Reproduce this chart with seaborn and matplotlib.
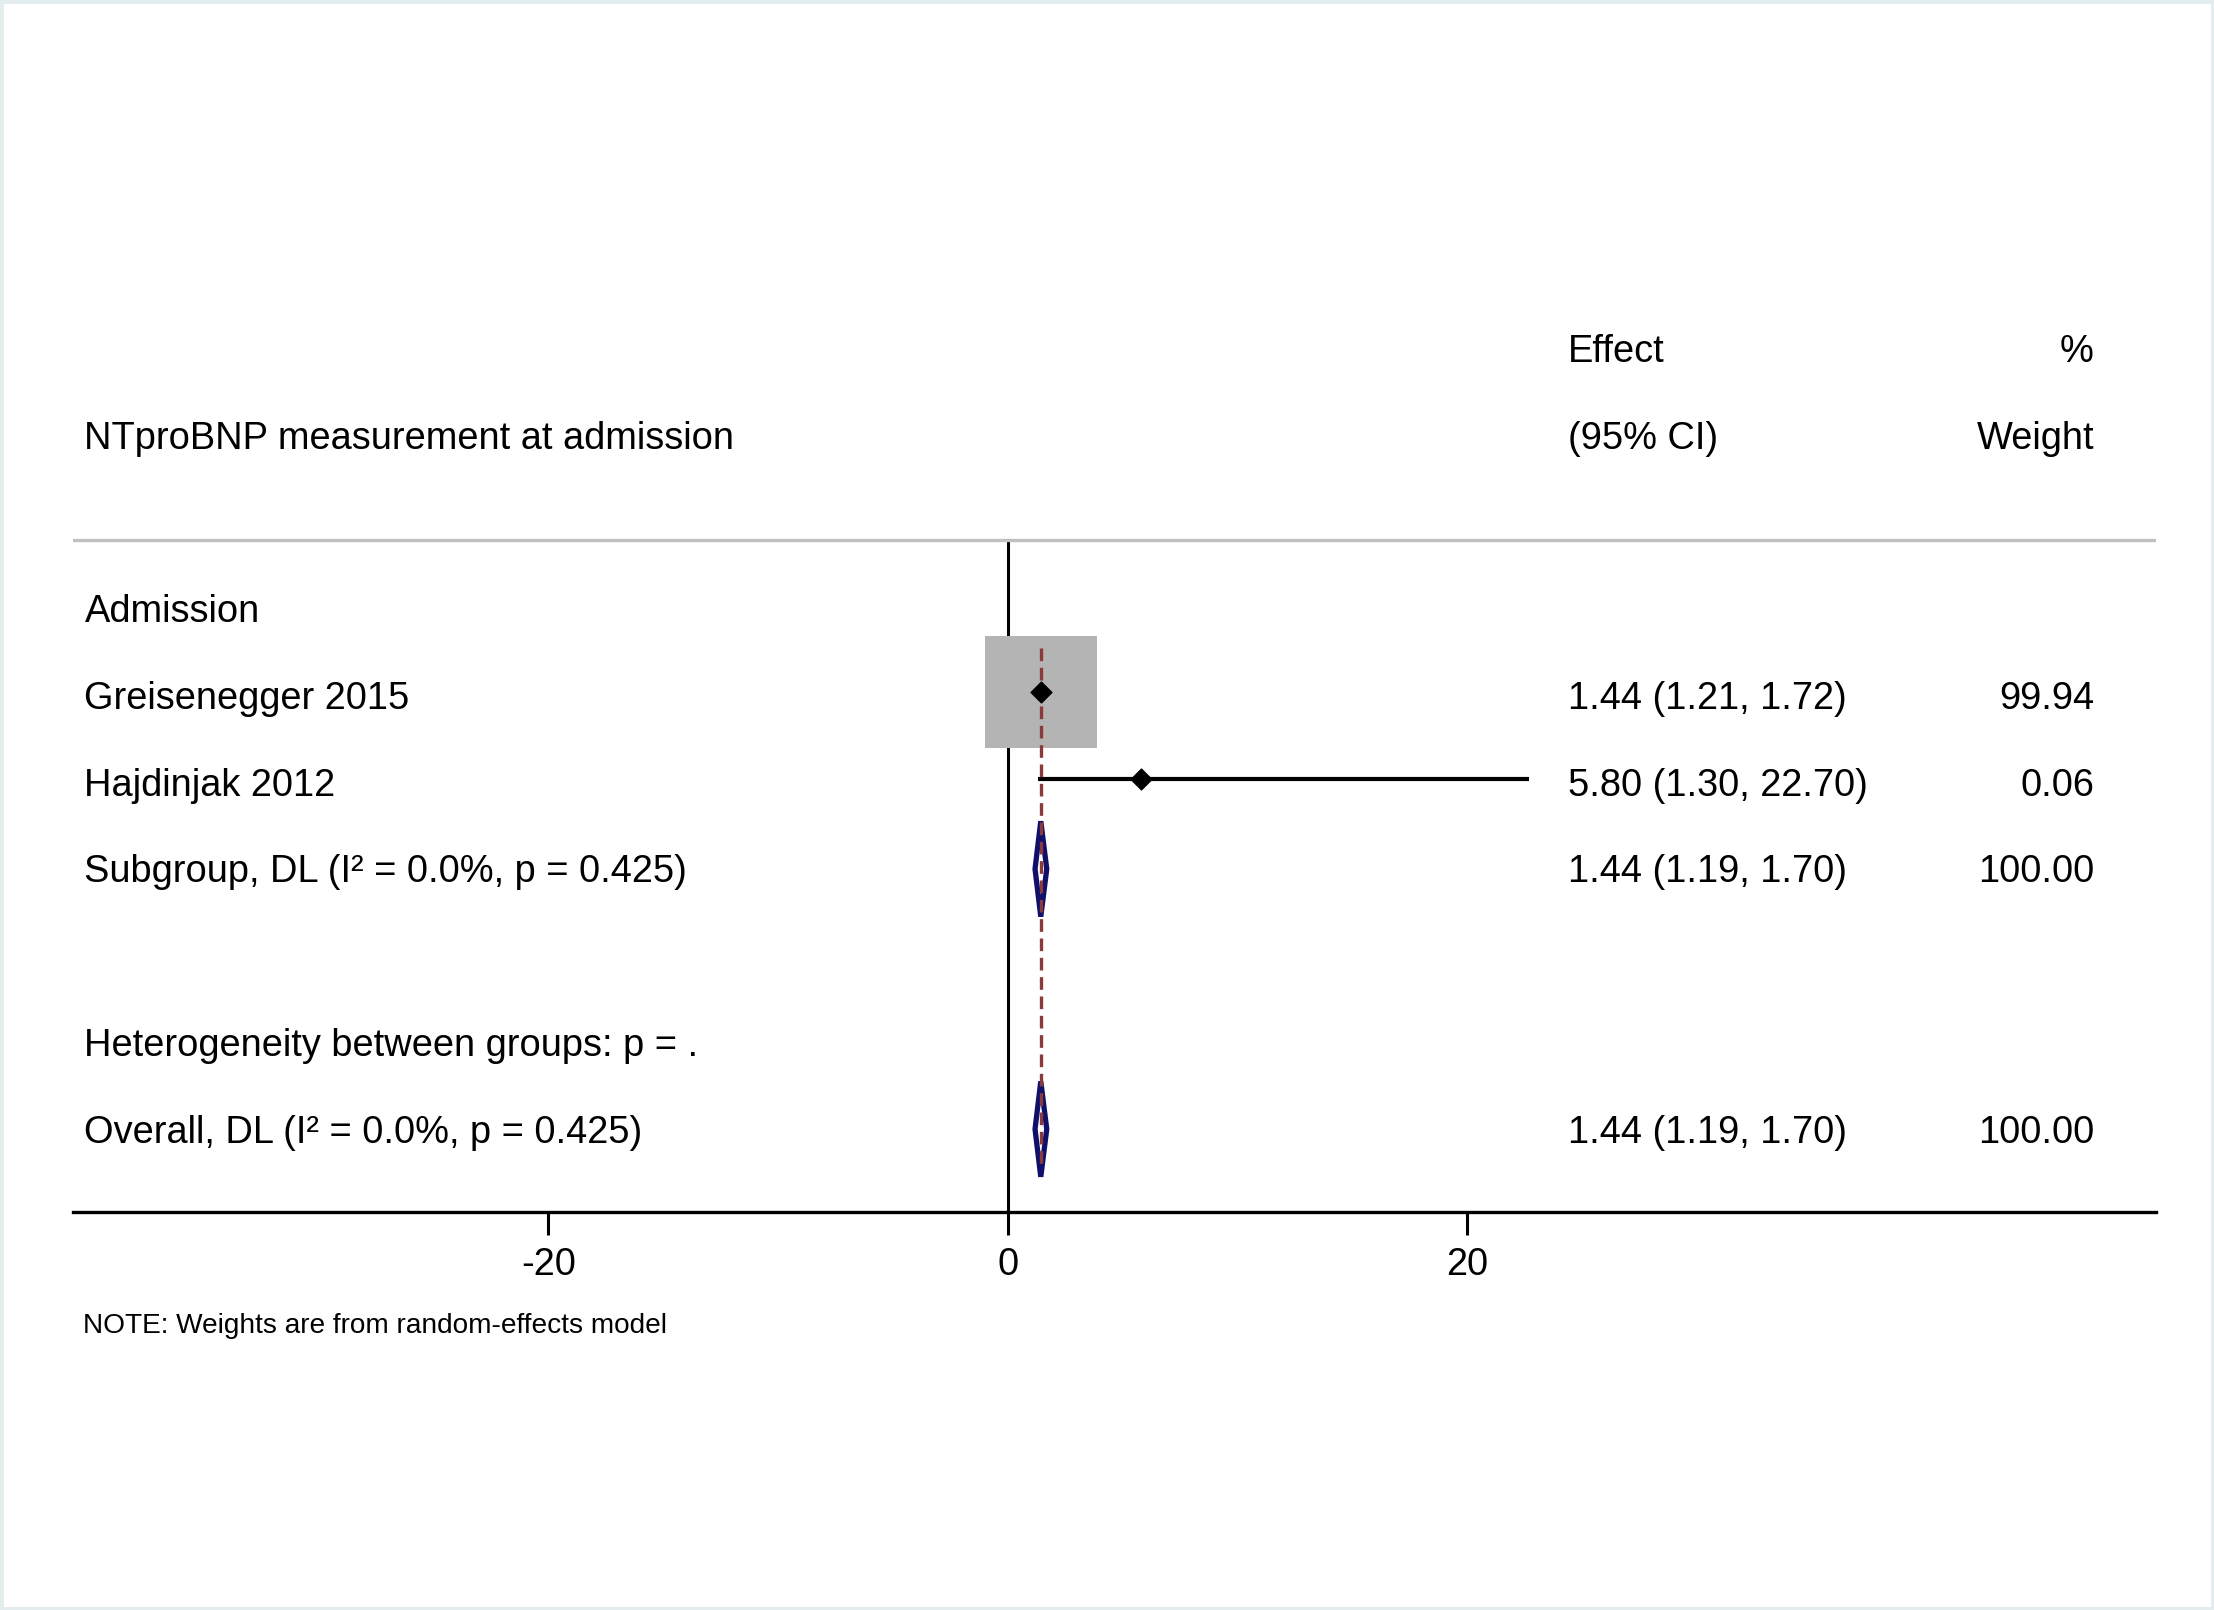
import numpy as np
import pandas as pd
import matplotlib
matplotlib.use("Agg")
import matplotlib.pyplot as plt
import seaborn as sns
from matplotlib.patches import Polygon, Rectangle

# data
header_title = "NTproBNP measurement at admission"
group_label = "Admission"
studies = ["Greisenegger 2015", "Hajdinjak 2012"]
effect = [1.44, 5.80]
ci_low = [1.21, 1.30]
ci_high = [1.72, 22.70]
weight = [99.94, 0.06]

pooled_labels = ["Subgroup, DL (I² = 0.0%, p = 0.425)",
                 "Overall, DL (I² = 0.0%, p = 0.425)"]
pooled_effect = [1.44, 1.44]
pooled_low = [1.19, 1.19]
pooled_high = [1.70, 1.70]
pooled_weight = [100.00, 100.00]
het_label = "Heterogeneity between groups: p = ."
xticks = [-20, 0, 20]
note = "NOTE: Weights are from random-effects model"

sns.set_theme(style="white")
plt.rcParams["font.family"] = ["Liberation Sans", "DejaVu Sans"]
plt.rcParams["axes.unicode_minus"] = False
plt.rcParams["text.color"] = "black"
FS = 13.7

# row layout (top to bottom)
study_rows = [3.96, 4.96]
pooled_rows = [6, 9]
het_row = 8
group_row = 3
dy = 0.04  # small nudge so text sits like the reference

fig = plt.figure(figsize=(11.07, 8.05), dpi=200)
fig.patch.set_facecolor("white")
ax = fig.add_axes([73 / 2214, 398.5 / 1610, 2083 / 2214, 993 / 1610])
ax.set_facecolor("white")

# study boxes sized by weight
for e, w, r in zip(effect, weight, study_rows):
    hw = 2.45 * np.sqrt(w / 100)
    hh = 0.645 * np.sqrt(w / 100)
    ax.add_patch(Rectangle((e - hw, r - hh), 2 * hw, 2 * hh,
                           facecolor="#b4b4b4", edgecolor="none", zorder=2))

# confidence intervals
ax.hlines(study_rows, ci_low, ci_high, color="black", lw=1.5, zorder=1)

# pooled diamonds
for e, lo, hi, r in zip(pooled_effect, pooled_low, pooled_high, pooled_rows):
    ax.add_patch(Polygon([(lo, r), (e, r - 0.55), (hi, r), (e, r + 0.55)],
                         closed=True, facecolor="white", edgecolor="#10106a",
                         lw=1.9, joinstyle="bevel", zorder=3))

# overall effect line and null line
ax.vlines(pooled_effect[-1], 3.45, 9.4, color="#8b3a3a", lw=1.2,
          linestyles=(0, (3.8, 2)), zorder=4)
ax.vlines(0, 2.21, 9.95, color="black", lw=1.1, zorder=1)
ax.axhline(2.21, color="#c0c0c0", lw=1.2, zorder=1)

# point estimates
df = pd.DataFrame({"effect": effect, "row": study_rows})
sns.scatterplot(data=df, x="effect", y="row", marker="D", color="black",
                s=28, edgecolor="black", linewidth=0.5, ax=ax, zorder=5,
                legend=False)

# text columns
xl, xe, xw = -40.2, 24.4, 47.3
kw = dict(va="center", fontsize=FS, color="black")
ax.text(xe, 0 + dy, "Effect", ha="left", **kw)
ax.text(xw, 0 + dy, "%", ha="right", **kw)
ax.text(xl, 1 + dy, header_title, ha="left", **kw)
ax.text(xe, 1 + dy, "(95% CI)", ha="left", **kw)
ax.text(xw, 1 + dy, "Weight", ha="right", **kw)
ax.text(xl, group_row + dy, group_label, ha="left", **kw)

for name, e, lo, hi, w, r in zip(studies, effect, ci_low, ci_high, weight, [4, 5]):
    ax.text(xl, r + dy, name, ha="left", **kw)
    ax.text(xe, r + dy, f"{e:.2f} ({lo:.2f}, {hi:.2f})", ha="left", **kw)
    ax.text(xw, r + dy, f"{w:.2f}", ha="right", **kw)

for name, e, lo, hi, w, r in zip(pooled_labels, pooled_effect, pooled_low,
                                 pooled_high, pooled_weight, pooled_rows):
    ax.text(xl, r + dy, name, ha="left", **kw)
    ax.text(xe, r + dy, f"{e:.2f} ({lo:.2f}, {hi:.2f})", ha="left", **kw)
    ax.text(xw, r + dy, f"{w:.2f}", ha="right", **kw)

ax.text(xl, het_row + dy, het_label, ha="left", **kw)

# axes styling
ax.set_xlim(-40.7, 50.0)
ax.set_ylim(9.95, -1.5)
ax.set_xlabel("")
ax.set_ylabel("")
ax.set_yticks([])
ax.set_xticks(xticks)
ax.set_xticklabels([str(t) for t in xticks])
for s in ["top", "left", "right"]:
    ax.spines[s].set_visible(False)
ax.spines["bottom"].set_color("black")
ax.spines["bottom"].set_linewidth(1.2)
ax.tick_params(axis="x", bottom=True, direction="out", length=8.3, width=1.1,
               pad=4.5, labelsize=FS, colors="black")

fig.text(83 / 2214, 1 - 1326 / 1610, note, ha="left", va="center",
         fontsize=10.1, color="black")

fig.patches.append(Rectangle((0, 0), 1, 1, transform=fig.transFigure, fill=False,
                             edgecolor="#e4eded", lw=2.5))

fig.savefig("out.png", dpi=200)
